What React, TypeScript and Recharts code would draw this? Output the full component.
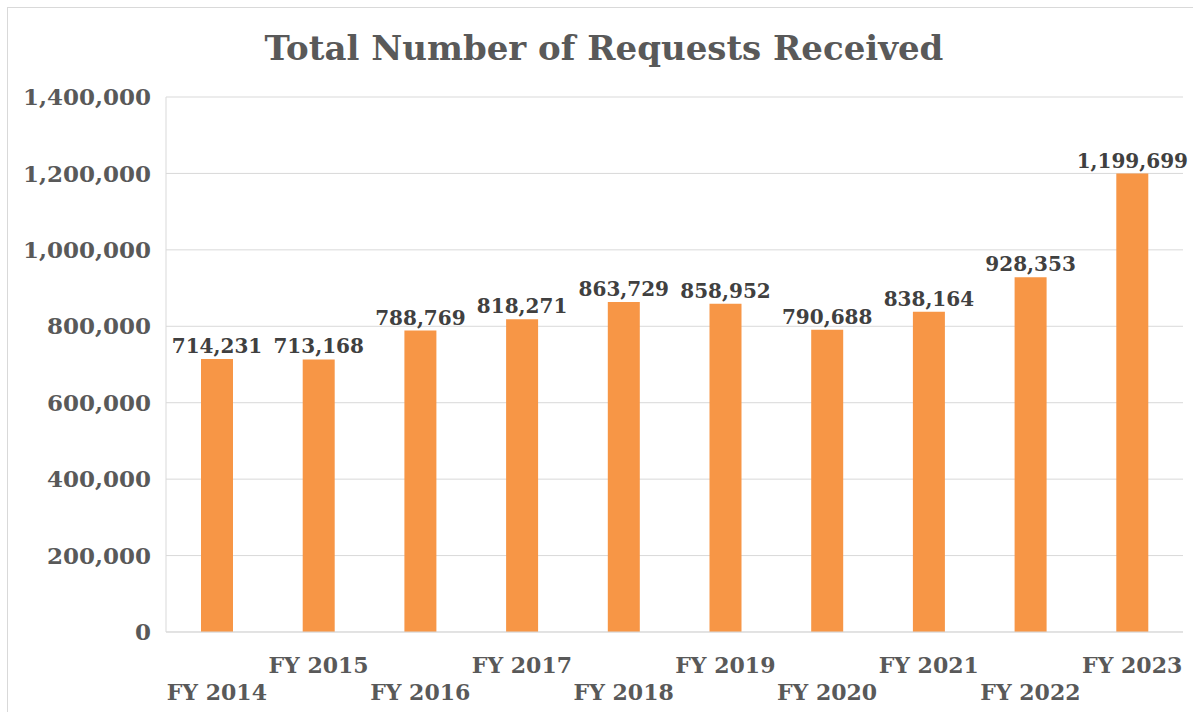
import { Bar, BarChart, CartesianGrid, LabelList, XAxis, YAxis } from "recharts"

const years = ["FY 2014", "FY 2015", "FY 2016", "FY 2017", "FY 2018", "FY 2019", "FY 2020", "FY 2021", "FY 2022", "FY 2023"]
const requests = [714231, 713168, 788769, 818271, 863729, 858952, 790688, 838164, 928353, 1199699]
const yTicks = [0, 200000, 400000, 600000, 800000, 1000000, 1200000, 1400000]

const data = years.map((year, i) => ({ year, requests: requests[i] }))

const font = "'DejaVu Serif', Georgia, serif"
const fmt = (v: number) => v.toLocaleString("en-US")

function StaggeredTick(props: any) {
  const { x, y, payload, index } = props
  const dy = index % 2 === 1 ? 33 : 60
  return (
    <text
      x={x}
      y={y + dy}
      textAnchor="middle"
      fill="#595959"
      fontFamily={font}
      fontWeight="bold"
      fontSize={22}
    >
      {payload.value}
    </text>
  )
}

export default function App() {
  return (
    <div
      style={{
        position: "fixed",
        left: 7,
        top: 7,
        width: 1200,
        height: 720,
        borderTop: "1px solid #d9d9d9",
        borderLeft: "1px solid #d9d9d9",
        background: "#fff",
      }}
    >
      <div
        style={{
          position: "absolute",
          left: 0,
          top: 20,
          width: 1192,
          textAlign: "center",
          fontFamily: font,
          fontWeight: "bold",
          fontSize: 34,
          color: "#595959",
        }}
      >
        Total Number of Requests Received
      </div>
      <BarChart
        width={1186}
        height={704}
        data={data}
        margin={{ top: 89, right: 11, bottom: 0, left: 0 }}
      >
        <CartesianGrid vertical={false} stroke="#d9d9d9" />
        <XAxis
          dataKey="year"
          height={80}
          interval={0}
          tickLine={false}
          axisLine={{ stroke: "#d9d9d9" }}
          tick={<StaggeredTick />}
        />
        <YAxis
          width={158}
          domain={[0, 1400000]}
          ticks={yTicks}
          tickFormatter={fmt}
          tickLine={false}
          tickSize={0}
          tickMargin={15}
          axisLine={{ stroke: "#d9d9d9" }}
          tick={{ fill: "#595959", fontFamily: font, fontWeight: "bold", fontSize: 23 }}
        />
        <Bar dataKey="requests" fill="#F79646" barSize={32} isAnimationActive={false}>
          <LabelList
            dataKey="requests"
            position="top"
            offset={6}
            formatter={(v: any) => fmt(Number(v))}
            fill="#404040"
            fontFamily={font}
            fontWeight="bold"
            fontSize={20}
          />
        </Bar>
      </BarChart>
    </div>
  )
}
